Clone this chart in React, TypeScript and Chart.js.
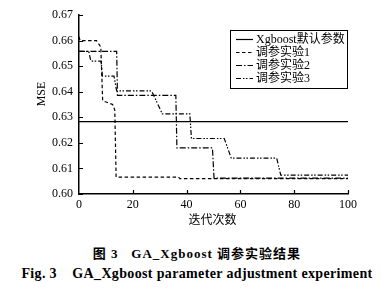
import React, { useEffect, useRef } from "react";
import { Chart, registerables } from "chart.js";

Chart.register(...registerables);

// ---- data ----
const xTickValues = [0, 20, 40, 60, 80, 100];
const yTickValues = [0.6, 0.61, 0.62, 0.63, 0.64, 0.65, 0.66, 0.67];
const seriesNames = ["Xgboost默认参数", "调参实验1", "调参实验2", "调参实验3"];

const defaultX = [0, 100];
const defaultY = [0.6283, 0.6283];

const exp1X = [0, 0.4, 6.5, 8.1, 8.8, 12.5, 13.3, 13.8, 37, 37.5, 100];
const exp1Y = [0.6615, 0.66, 0.66, 0.6575, 0.6365, 0.635, 0.6328, 0.6066, 0.6066, 0.606, 0.606];

const exp2X = [0, 14, 14.3, 36, 36.4, 49.6, 50.2, 100];
const exp2Y = [0.6558, 0.6558, 0.6386, 0.6386, 0.618, 0.618, 0.6062, 0.6062];

const exp3X = [0, 3.6, 4.4, 8.2, 8.7, 13, 14, 27, 31, 41.2, 41.8, 54, 56.6, 73.5, 75, 100];
const exp3Y = [0.6558, 0.6558, 0.652, 0.652, 0.6461, 0.6461, 0.6403, 0.6403, 0.6313, 0.6313, 0.6217, 0.6217, 0.614, 0.614, 0.6074, 0.6074];

const xTitle = "迭代次数";
const yTitle = "MSE";
const caption1 = "图 3   GA_Xgboost 调参实验结果";
const caption2 = "Fig. 3    GA_Xgboost parameter adjustment experiment";

const SERIF = '"Liberation Serif", "Times New Roman", "Noto Sans CJK SC", serif';

const toPoints = (xs: number[], ys: number[]) => xs.map((x, i) => ({ x, y: ys[i] }));

const dashes: number[][] = [[], [3.5, 2.5], [6, 2, 1.5, 2], [5, 2, 1.5, 1.5, 1.5, 2]];

const decorPlugin = {
  id: "decor",
  afterDraw(chart: any) {
    const { ctx, chartArea, scales } = chart;
    const xs = scales.x;
    const ys = scales.y;
    ctx.save();
    ctx.strokeStyle = "#000";
    ctx.lineWidth = 1.2;
    // inward ticks
    ctx.beginPath();
    yTickValues.forEach((v) => {
      const py = Math.round(ys.getPixelForValue(v)) + 0.5;
      ctx.moveTo(chartArea.left, py);
      ctx.lineTo(chartArea.left + 4, py);
    });
    xTickValues.forEach((v) => {
      if (v === 0) return;
      const px = Math.round(xs.getPixelForValue(v)) + 0.5;
      ctx.moveTo(px, chartArea.bottom);
      ctx.lineTo(px, chartArea.bottom - 4);
    });
    ctx.stroke();

    // axis titles
    ctx.fillStyle = "#000";
    ctx.font = '12px ' + SERIF;
    ctx.textAlign = "center";
    ctx.textBaseline = "middle";
    ctx.save();
    ctx.translate(42, 94);
    ctx.rotate(-Math.PI / 2);
    ctx.fillText(yTitle, 0, 0);
    ctx.restore();
    ctx.font = '12px "Noto Sans CJK SC", sans-serif';
    ctx.fillText(xTitle, (chartArea.left + chartArea.right) / 2 - 1, 219);

    // legend
    const bx = 230.5, by = 30.5, bw = 117, bh = 58;
    ctx.lineWidth = 1;
    ctx.setLineDash([]);
    ctx.strokeRect(bx, by, bw, bh);
    ctx.textAlign = "left";
    ctx.font = '12px ' + SERIF;
    chart.data.datasets.forEach((ds: any, i: number) => {
      const cy = 39 + i * 13;
      ctx.beginPath();
      ctx.setLineDash(ds.borderDash || []);
      ctx.lineWidth = 1.2;
      ctx.moveTo(236, cy + 0.5);
      ctx.lineTo(253, cy + 0.5);
      ctx.stroke();
      ctx.setLineDash([]);
      ctx.fillText(ds.label, 256, cy + 0.5);
    });
    ctx.restore();
  },
};

export default function App() {
  const ref = useRef<HTMLCanvasElement | null>(null);

  useEffect(() => {
    if (!ref.current) return;
    const seriesX = [defaultX, exp1X, exp2X, exp3X];
    const seriesY = [defaultY, exp1Y, exp2Y, exp3Y];
    const chart = new Chart(ref.current, {
      type: "line",
      data: {
        datasets: seriesNames.map((name, i) => ({
          label: name,
          data: toPoints(seriesX[i], seriesY[i]),
          borderColor: "#000",
          borderWidth: 1.2,
          borderDash: dashes[i],
          pointRadius: 0,
          tension: 0,
          fill: false,
        })),
      },
      options: {
        animation: false,
        responsive: false,
        maintainAspectRatio: false,
        layout: { padding: { top: 15, right: 34, left: 0, bottom: 0 } },
        plugins: { legend: { display: false }, tooltip: { enabled: false }, title: { display: false } },
        scales: {
          x: {
            type: "linear",
            min: 0,
            max: 100,
            grid: { display: false, drawTicks: false },
            border: { display: true, color: "#000", width: 1.5 },
            ticks: { color: "#000", font: { family: SERIF, size: 12 }, padding: 4, maxRotation: 0 },
            afterBuildTicks: (s: any) => {
              s.ticks = xTickValues.map((v) => ({ value: v }));
            },
            afterFit: (s: any) => {
              s.height = 36;
            },
          },
          y: {
            type: "linear",
            min: 0.6,
            max: 0.67,
            grid: { display: false, drawTicks: false },
            border: { display: true, color: "#000", width: 1.5 },
            ticks: {
              color: "#000",
              font: { family: SERIF, size: 12 },
              padding: 6,
              callback: (v: any) => Number(v).toFixed(2),
            },
            afterBuildTicks: (s: any) => {
              s.ticks = yTickValues.map((v) => ({ value: v }));
            },
            afterFit: (s: any) => {
              s.width = 79;
            },
          },
        },
      },
      plugins: [decorPlugin],
    } as any);
    return () => chart.destroy();
  }, []);

  const capStyle: React.CSSProperties = {
    position: "absolute",
    left: 0,
    width: 394,
    textAlign: "center",
    fontFamily: '"Liberation Serif", "Noto Sans CJK SC", serif',
    fontWeight: "bold",
    fontSize: 13,
    lineHeight: "16px",
    whiteSpace: "pre",
    color: "#000",
  };

  return (
    <div style={{ position: "fixed", left: 0, top: 0, width: 382, height: 293, background: "#fff", overflow: "hidden" }}>
      <canvas ref={ref} width={382} height={230} style={{ position: "absolute", left: 0, top: 0, width: 382, height: 230 }} />
      <div style={{ ...capStyle, top: 246, letterSpacing: 1 }}>{caption1}</div>
      <div style={{ ...capStyle, top: 266, fontSize: 14, letterSpacing: 0.35 }}>{caption2}</div>
    </div>
  );
}
